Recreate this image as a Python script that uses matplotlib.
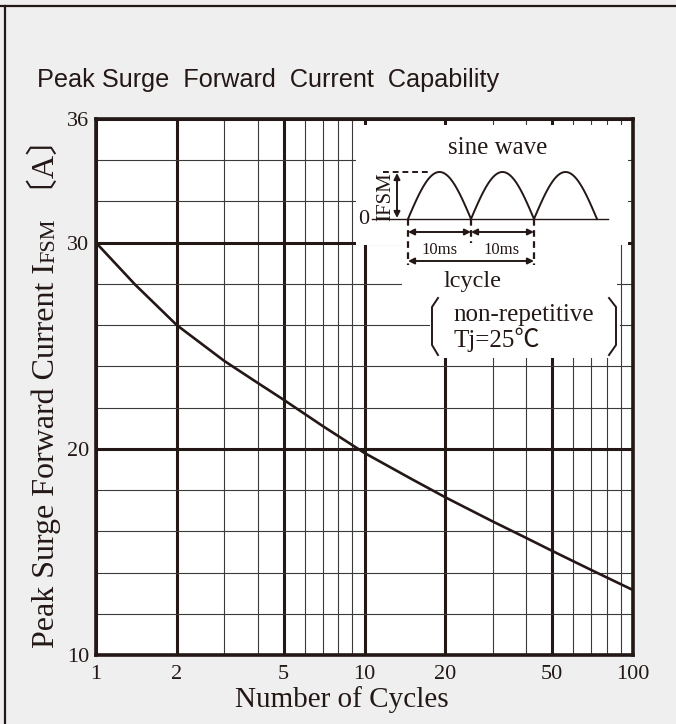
import numpy as np
import matplotlib
matplotlib.use('Agg')
import matplotlib.pyplot as plt
from matplotlib.ticker import FixedLocator, NullFormatter
from matplotlib.patches import Rectangle

# curve
cycles = [1, 1.4, 2, 3, 4, 5, 7, 10, 15, 20, 30, 40, 50, 70, 100]
current = [30.0, 27.96, 26.0, 24.27, 23.2, 22.38, 21.1, 19.8, 18.53, 17.65, 16.48, 15.68, 15.05, 14.12, 13.15]

x_major = [1, 2, 5, 10, 20, 50, 100]
x_minor = [3, 4, 6, 7, 8, 9, 30, 40, 60, 70, 80, 90]
y_major = [10, 20, 30, 36]
y_minor = [12, 14, 16, 18, 22, 24, 26, 28, 32, 34]

INK = '#231815'
BG = '#efefef'
SERIF = ['Liberation Serif', 'Noto Sans CJK JP', 'DejaVu Serif']
W, H = 676, 724

fig = plt.figure(figsize=(W / 100, H / 100), dpi=100, facecolor=BG)
ax = fig.add_axes([96 / W, 1 - 655 / H, (633 - 96) / W, (655 - 119) / H])
ax.set_facecolor('white')

ax.plot(cycles, current, color=INK, lw=1.9, zorder=4)

ax.set_xscale('log')
ax.set_xlim(1, 100)
ax.set_ylim(10, 36)
ax.xaxis.set_major_locator(FixedLocator(x_major))
ax.xaxis.set_minor_locator(FixedLocator(x_minor))
ax.xaxis.set_minor_formatter(NullFormatter())
ax.set_xticklabels([str(v) for v in x_major])
ax.yaxis.set_major_locator(FixedLocator(y_major))
ax.yaxis.set_minor_locator(FixedLocator(y_minor))
ax.set_yticklabels([str(v) for v in y_major])

ax.grid(which='major', color=INK, lw=2.2)
ax.grid(which='minor', color='#3a3a3a', lw=0.8)
ax.set_axisbelow(True)
for s in ax.spines.values():
    s.set_linewidth(2.6)
    s.set_color(INK)
ax.tick_params(which='both', length=0)
ax.tick_params(axis='x', pad=7)
ax.tick_params(axis='y', pad=5)
for lab in ax.get_xticklabels() + ax.get_yticklabels():
    lab.set_family(SERIF)
    lab.set_fontsize(16)
    lab.set_color(INK)

# overlay in pixel coordinates for the frame, titles and the inset sketch
ov = fig.add_axes([0, 0, 1, 1], zorder=3)
ov.set_xlim(0, W)
ov.set_ylim(H, 0)
ov.axis('off')
ov.patch.set_alpha(0)

ov.plot([0, W], [6, 6], color=INK, lw=1.6)
ov.plot([5, 5], [6, H], color=INK, lw=1.6)

ov.text(37, 87, 'Peak Surge  Forward  Current  Capability', ha='left', va='baseline',
        fontsize=18.2, family=['Liberation Sans', 'DejaVu Sans'], color=INK)
ov.text(342, 700, 'Number of Cycles', ha='center', va='center', fontsize=21,
        family=SERIF, color=INK)

# y label made of pieces (small caps FSM)
renderer = fig.canvas.get_renderer()
ypos = 648
for txt, size in [('Peak Surge Forward Current I', 23), ('FSM', 16), (' 〔A〕', 23)]:
    t = ov.text(54, ypos, txt, rotation=90, rotation_mode='anchor', ha='left',
                va='baseline', fontsize=size, family=SERIF, color=INK)
    bb = t.get_window_extent(renderer)
    ypos = H - bb.y1

# white areas of the inset
for x0, y0, x1, y1 in [(356, 125, 628, 245), (402, 245, 617, 300), (430, 300, 620, 358)]:
    ov.add_patch(Rectangle((x0, y0), x1 - x0, y1 - y0, facecolor='white', edgecolor='none'))

base, peak, hw, x0 = 219, 172, 63, 408
t = np.linspace(0, 1, 80)
for k in range(3):
    ov.plot(x0 + k * hw + t * hw, base - (base - peak) * np.sin(np.pi * t), color=INK, lw=1.4)
ov.plot([372, 608], [base, base], color=INK, lw=1.0)
ov.plot([383, 428], [peak, peak], color=INK, lw=1.4, ls=(0, (3, 2)))
for xv, y_end in [(408, 265), (471, 243), (534, 265)]:
    ov.plot([xv, xv], [base, y_end], color=INK, lw=1.6, ls=(0, (3, 2)))

arrow = dict(arrowstyle='<|-|>', lw=1.4, color=INK, mutation_scale=9, shrinkA=0, shrinkB=0)
ov.annotate('', xy=(397, base - 1), xytext=(397, peak + 1), arrowprops=arrow)
ov.annotate('', xy=(471, 232), xytext=(408, 232), arrowprops=arrow)
ov.annotate('', xy=(534, 232), xytext=(471, 232), arrowprops=arrow)
ov.annotate('', xy=(534, 261), xytext=(408, 261), arrowprops=arrow)

ov.text(498, 148, 'sine wave', ha='center', va='center', fontsize=18, family=SERIF, color=INK)
ov.text(386, 197, 'IFSM', ha='center', va='center', rotation=90, fontsize=15, family=SERIF, color=INK)
ov.text(364, 219, '0', ha='center', va='center', fontsize=16, family=SERIF, color=INK)
ov.text(440, 250, '10ms', ha='center', va='center', fontsize=12, family=SERIF, color=INK)
ov.text(502, 250, '10ms', ha='center', va='center', fontsize=12, family=SERIF, color=INK)
ov.text(473, 281, 'lcycle', ha='center', va='center', fontsize=17.5, family=SERIF, color=INK)
ov.text(453, 315, 'non-repetitive', ha='left', va='center', fontsize=18, family=SERIF, color=INK)
ov.text(453, 340, 'Tj=25℃', ha='left', va='center', fontsize=18, family=SERIF, color=INK)

ov.plot([438, 432, 432, 438], [298, 307, 345, 355], color=INK, lw=1.4)
ov.plot([609, 616, 616, 609], [298, 307, 345, 355], color=INK, lw=1.4)

fig.savefig('out.png', dpi=100, facecolor=BG)
